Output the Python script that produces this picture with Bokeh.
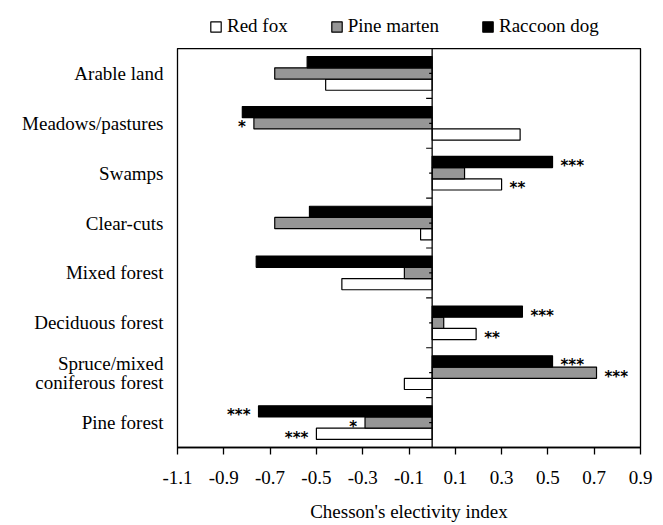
from bokeh.plotting import figure
from bokeh.layouts import column
from bokeh.models import (FactorRange, Legend, LegendItem, FixedTicker,
                          PrintfTickFormatter, ColumnDataSource, Span)
from bokeh.transform import dodge
from bokeh.core.properties import value
from bokeh.embed import file_html
from bokeh.resources import INLINE

# ---------------- data ----------------
categories = ["Arable land", "Meadows/pastures", "Swamps", "Clear-cuts",
              "Mixed forest", "Deciduous forest",
              "Spruce/mixed\nconiferous forest", "Pine forest"]
red_fox = [-0.46, 0.38, 0.30, -0.05, -0.39, 0.19, -0.12, -0.50]
pine_marten = [-0.68, -0.77, 0.14, -0.68, -0.12, 0.05, 0.71, -0.29]
raccoon_dog = [-0.54, -0.82, 0.52, -0.53, -0.76, 0.39, 0.52, -0.75]
red_fox_sig = ["", "", "**", "", "", "**", "", "***"]
pine_marten_sig = ["", "*", "", "", "", "", "***", "*"]
raccoon_dog_sig = ["", "", "***", "", "", "***", "***", "***"]
x_ticks = [-1.1, -0.9, -0.7, -0.5, -0.3, -0.1, 0.1, 0.3, 0.5, 0.7, 0.9]
series_names = ["Red fox", "Pine marten", "Raccoon dog"]

# ---------------- style ----------------
SERIF = "Liberation Serif"
FONT_SIZE = "19px"
BAR_H = 0.225
X_MIN, X_MAX = x_ticks[0], x_ticks[-1]
W = 663
LEG_H = 48
H = 525 - LEG_H
ML, MR, MT, MB = 177, 23, 0, 78
FRAME_W = W - ML - MR
colors = ["white", "#969696", "black"]

p = figure(y_range=FactorRange(factors=categories[::-1]),
           x_range=(X_MIN, X_MAX), width=W, height=H,
           output_backend="svg", toolbar_location=None,
           min_border_left=ML, min_border_right=MR,
           min_border_top=MT, min_border_bottom=MB)

src = ColumnDataSource(dict(cat=categories, fox=red_fox,
                            marten=pine_marten, raccoon=raccoon_dog))

specs = [("fox", -BAR_H), ("marten", 0.0), ("raccoon", BAR_H)]
for (col, off), color in zip(specs, colors):
    p.hbar(y=dodge("cat", off, range=p.y_range), left=0, right=col,
           height=BAR_H, fill_color=color, line_color="black",
           line_width=1.2, source=src)

# zero line with its little ticks
p.add_layout(Span(location=0, dimension="height", line_color="black",
                  line_width=1.3))
px = (X_MAX - X_MIN) / FRAME_W
tick_src_c = ColumnDataSource(dict(cat=categories))
tick_src_b = ColumnDataSource(dict(cat=categories[:-1]))
p.segment(x0=0, x1=-3 * px, y0=dodge("cat", 0, range=p.y_range),
          y1=dodge("cat", 0, range=p.y_range), line_color="black",
          line_width=1.2, source=tick_src_c)
p.segment(x0=0, x1=-6 * px, y0=dodge("cat", -0.5, range=p.y_range),
          y1=dodge("cat", -0.5, range=p.y_range), line_color="black",
          line_width=1.2, source=tick_src_b)

# significance stars
for vals, sigs, off in [(red_fox, red_fox_sig, -BAR_H),
                        (pine_marten, pine_marten_sig, 0.0),
                        (raccoon_dog, raccoon_dog_sig, BAR_H)]:
    idx = [i for i, s in enumerate(sigs) if s]
    d = dict(cat=[categories[i] for i in idx],
             val=[vals[i] for i in idx],
             sig=[sigs[i] for i in idx],
             align=["left" if vals[i] > 0 else "right" for i in idx],
             xoff=[8 if vals[i] > 0 else -8 for i in idx])
    p.text(x="val", y=dodge("cat", off, range=p.y_range), text="sig",
           text_align="align", x_offset="xoff", y_offset=4,
           text_baseline="middle", text_font=value("DejaVu Sans"),
           text_font_size="15px", text_font_style="bold",
           text_color="black", source=ColumnDataSource(d))

# axes
p.xgrid.visible = False
p.ygrid.visible = False
p.outline_line_color = "black"
p.outline_line_width = 1.3
p.outline_line_alpha = 1.0

xa = p.xaxis[0]
xa.ticker = FixedTicker(ticks=x_ticks)
xa.formatter = PrintfTickFormatter(format="%.1f")
xa.major_tick_out = 7
xa.major_tick_in = 0
xa.minor_tick_out = 0
xa.minor_tick_in = 0
xa.major_tick_line_color = "black"
xa.major_tick_line_width = 1.3
xa.axis_line_color = "black"
xa.axis_line_width = 1.3
xa.major_label_text_font = SERIF
xa.major_label_text_font_size = FONT_SIZE
xa.major_label_text_color = "black"
xa.major_label_standoff = 16
xa.axis_label = "Chesson's electivity index"
xa.axis_label_text_font = SERIF
xa.axis_label_text_font_size = FONT_SIZE
xa.axis_label_text_font_style = "normal"
xa.axis_label_text_color = "black"
xa.axis_label_standoff = 14

ya = p.yaxis[0]
ya.major_tick_out = 0
ya.major_tick_in = 0
ya.minor_tick_out = 0
ya.axis_line_color = None
ya.major_label_standoff = 14
ya.major_label_text_font = SERIF
ya.major_label_text_font_size = FONT_SIZE
ya.major_label_text_color = "black"
ya.major_label_text_line_height = 0.9

# ---------------- legend strip above the chart ----------------
lf = figure(width=W, height=LEG_H, output_backend="svg",
            toolbar_location=None, x_axis_type=None, y_axis_type=None,
            min_border=0, min_border_left=0, min_border_right=0,
            min_border_top=0, min_border_bottom=0,
            x_range=(0, 1), y_range=(0, 1))
lf.outline_line_color = None
lf.xgrid.visible = False
lf.ygrid.visible = False
# zero-size placeholder bars: only their styles feed the legend swatches
dummy = ColumnDataSource(dict(y=[-1.0], left=[0.0], right=[0.0]))
leg_renderers = [lf.hbar(y="y", left="left", right="right", height=0.1,
                         fill_color=c, line_color="black", line_width=1.2,
                         source=dummy)
                 for c in colors]
legend = Legend(items=[LegendItem(label=n, renderers=[r])
                       for n, r in zip(series_names, leg_renderers)],
                orientation="horizontal", location=(32, 11),
                spacing=42, label_standoff=5, glyph_width=13,
                glyph_height=13, padding=0, margin=0,
                border_line_color=None, background_fill_alpha=0,
                label_text_font=SERIF, label_text_font_size=FONT_SIZE,
                label_text_color="black")
lf.add_layout(legend)

layout = column(lf, p, spacing=0)
open("out.html", "w").write(file_html(layout, INLINE))
